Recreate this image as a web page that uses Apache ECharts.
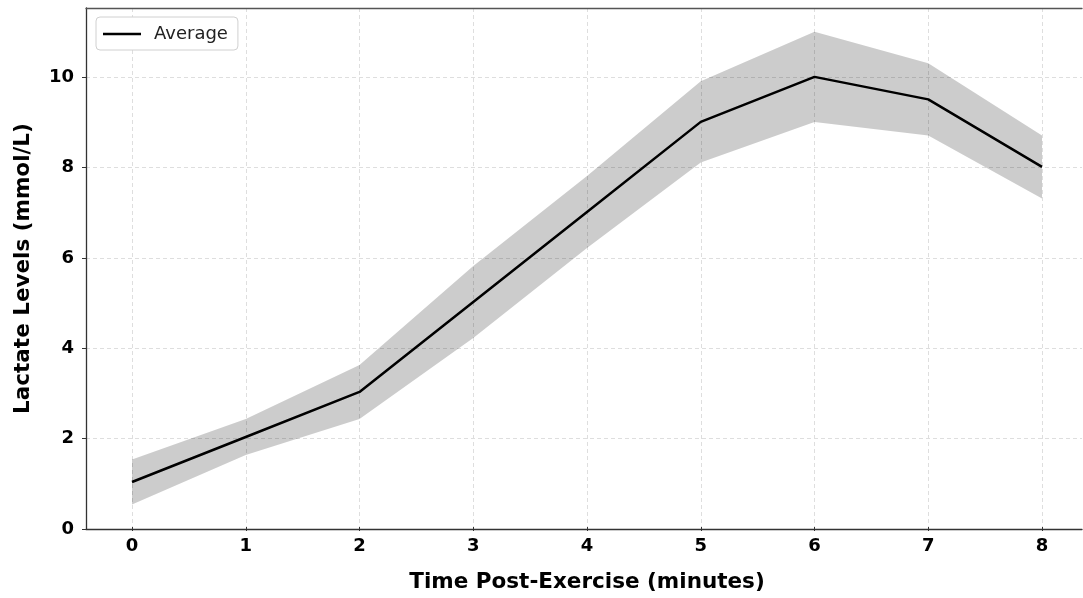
<!DOCTYPE html>
<html>
<head>
<meta charset="utf-8">
<script src="https://cdn.jsdelivr.net/npm/echarts@6/dist/echarts.min.js"></script>
<style>
  html, body { margin: 0; padding: 0; background: #fff; }
  #chart { width: 1083px; height: 598px; }
</style>
</head>
<body>
<div id="chart"></div>
<script>
// minutes after exercise
let minutes = [0, 1, 2, 3, 4, 5, 6, 7, 8];
// mean lactate and the shaded range around it
let average = [1, 2, 3, 5, 7, 9, 10, 9.5, 8];
let lower = [0.5, 1.6, 2.4, 4.2, 6.2, 8.1, 9.0, 8.7, 7.3];
let upper = [1.5, 2.4, 3.6, 5.8, 7.8, 9.9, 11.0, 10.3, 8.7];
let yTicks = [0, 2, 4, 6, 8, 10];

let font = 'DejaVu Sans';
let yMax = 11.53;

let pairs = arr => minutes.map((m, i) => [m, arr[i]]);

// the whole band is drawn as one polygon, on the first item only
let renderBand = (params, api) => {
    if (params.dataIndex !== 0) return null;
    let top = minutes.map((m, i) => api.coord([m, upper[i]]));
    let bottom = minutes.map((m, i) => api.coord([m, lower[i]])).reverse();
    return {
        type: 'polygon',
        shape: { points: top.concat(bottom) },
        style: { fill: 'rgba(0,0,0,0.2)' },
        silent: true
    };
};

let option = {
    animation: false,
    backgroundColor: '#fff',
    // grid 0 holds the frame + horizontal grid, grid 1 holds the data
    grid: [
        { left: 86, right: 1, top: 8, bottom: 69 },
        { left: 132, right: 41, top: 8, bottom: 69 }
    ],
    legend: {
        data: ['Average'],
        left: 96,
        top: 17,
        orient: 'vertical',
        icon: 'rect',
        itemWidth: 38,
        itemHeight: 2.5,
        padding: [8, 10, 7, 7],
        borderColor: '#d0d0d0',
        borderWidth: 1,
        borderRadius: 4,
        backgroundColor: '#fff',
        textStyle: { fontFamily: font, fontSize: 18, color: '#222', padding: [0, 0, 0, 8] }
    },
    xAxis: [
        {
            gridIndex: 0, type: 'value', min: 0, max: 1,
            axisLine: { show: true, lineStyle: { color: '#333', width: 1.3 } },
            axisTick: { show: false }, axisLabel: { show: false }, splitLine: { show: false }
        },
        {
            gridIndex: 0, type: 'value', min: 0, max: 1, position: 'top',
            axisLine: { show: true, lineStyle: { color: '#555', width: 1.3 } },
            axisTick: { show: false }, axisLabel: { show: false }, splitLine: { show: false }
        },
        {
            gridIndex: 1, type: 'value', min: 0, max: 8, interval: 1,
            name: 'Time Post-Exercise (minutes)',
            nameLocation: 'middle',
            nameGap: 44,
            nameTextStyle: { fontFamily: font, fontSize: 21.5, fontWeight: 'bold', color: '#000' },
            axisLine: { show: false },
            axisTick: { show: true, length: 4, lineStyle: { color: '#333' } },
            axisLabel: { fontFamily: font, fontSize: 18, fontWeight: 'bold', color: '#000', margin: 10 },
            splitLine: { show: true, lineStyle: { color: '#dedede', type: [4, 3], width: 1 } }
        }
    ],
    yAxis: [
        {
            gridIndex: 0, type: 'value', min: 0, max: yMax, interval: 2,
            name: 'Lactate Levels (mmol/L)',
            nameLocation: 'middle',
            nameGap: 52,
            nameTextStyle: { fontFamily: font, fontSize: 21.5, fontWeight: 'bold', color: '#000' },
            axisLine: { show: true, lineStyle: { color: '#333', width: 1.3 } },
            axisTick: { show: true, length: 4, lineStyle: { color: '#333' } },
            axisLabel: {
                fontFamily: font, fontSize: 18, fontWeight: 'bold', color: '#000', margin: 12,
                showMaxLabel: false,
                formatter: v => yTicks.includes(v) ? String(v) : ''
            },
            splitLine: { show: true, lineStyle: { color: '#dedede', type: [4, 3], width: 1 } }
        },
        {
            gridIndex: 1, type: 'value', min: 0, max: yMax, show: false
        }
    ],
    series: [
        {
            name: 'band', type: 'custom', xAxisIndex: 2, yAxisIndex: 1,
            renderItem: renderBand,
            silent: true,
            data: pairs(upper)
        },
        {
            name: 'Average', type: 'line', xAxisIndex: 2, yAxisIndex: 1,
            symbol: 'none',
            itemStyle: { color: '#000' },
            lineStyle: { color: '#000', width: 2.5 },
            data: pairs(average)
        }
    ]
};

let myChart = echarts.init(document.getElementById('chart'));
myChart.setOption(option);
</script>
</body>
</html>
